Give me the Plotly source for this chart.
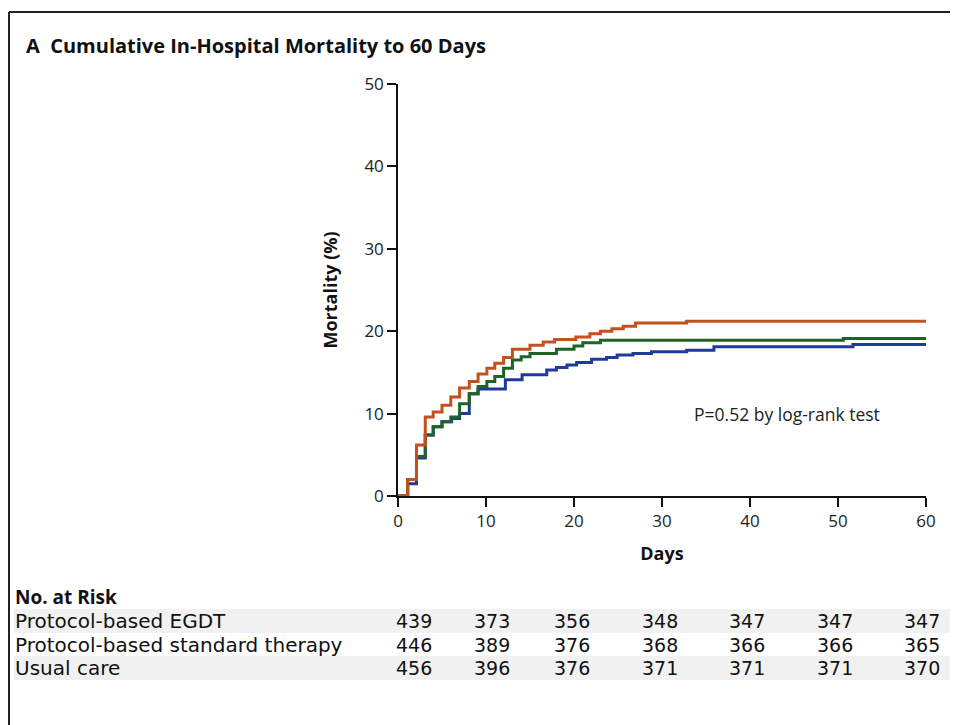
import plotly.graph_objects as go

# ---------------- data ----------------
egdt_days = [0, 1.1, 2.1, 3.1, 4.0, 5.0, 6.0, 7.0, 8.1, 9.1, 10.1, 11.0, 12.0, 13.0, 15.0, 16.5,
             17.8, 20.2, 21.8, 23.0, 24.3, 25.6, 27.0, 32.8, 60]
egdt_mort = [0, 2.0, 6.2, 9.6, 10.2, 11.0, 12.0, 13.1, 13.9, 14.8, 15.5, 16.1, 16.8, 17.8, 18.3, 18.7,
             19.0, 19.3, 19.7, 20.0, 20.3, 20.6, 21.0, 21.2, 21.2]

std_days = [0, 1.1, 2.1, 3.1, 4.0, 5.0, 6.0, 7.0, 8.1, 9.1, 10.1, 11.0, 12.0, 13.0, 14.0, 15.0,
            18.0, 20.0, 21.0, 23.0, 50.6, 60]
std_mort = [0, 2.0, 4.8, 7.4, 8.4, 9.0, 9.6, 11.2, 12.4, 13.3, 13.9, 14.5, 15.5, 16.5, 16.9, 17.3,
            17.8, 18.2, 18.6, 18.9, 19.1, 19.1]

usual_days = [0, 1.1, 2.1, 3.1, 4.0, 5.0, 6.1, 7.0, 8.1, 9.1, 12.2, 14.1, 16.9, 18.0, 19.2, 20.3,
              22.0, 23.7, 24.9, 26.7, 28.8, 32.8, 35.9, 51.7, 60]
usual_mort = [0, 1.5, 4.6, 7.4, 8.4, 9.0, 9.4, 10.0, 12.4, 13.0, 14.1, 14.7, 15.3, 15.6, 15.9, 16.2,
              16.6, 16.8, 17.1, 17.3, 17.5, 17.7, 18.1, 18.4, 18.4]

risk_days = [0, 10, 20, 30, 40, 50, 60]
risk_groups = ["Protocol-based EGDT", "Protocol-based standard therapy", "Usual care"]
risk_egdt = [439, 373, 356, 348, 347, 347, 347]
risk_std = [446, 389, 376, 368, 366, 366, 365]
risk_usual = [456, 396, 376, 371, 371, 371, 370]

x_ticks = [0, 10, 20, 30, 40, 50, 60]
y_ticks = [0, 10, 20, 30, 40, 50]

FONT = "Open Sans"
TFONT = "DejaVu Sans"
OFF = 8  # page body margin

fig = go.Figure()
series = [
    (usual_days, usual_mort, "#1f3a9a", "Usual care"),
    (std_days, std_mort, "#1f6327", "Protocol-based standard therapy"),
    (egdt_days, egdt_mort, "#c4501e", "Protocol-based EGDT"),
]
for xd, yd, col, name in series:
    fig.add_trace(go.Scatter(x=xd, y=yd, mode="lines", line=dict(color=col, width=3, shape="hv"),
                             name=name, showlegend=False, cliponaxis=False))

# plot-area pixel mapping helpers (screen pixels, layout only)
PL, PR, PT, PB = 398, 926, 84, 496
W, H = 958 - OFF, 725 - OFF
def py(p):  # screen pixel y -> paper y
    return (PB - p) / (PB - PT)
def px(p):  # screen pixel x -> paper x
    return (p - PL) / (PR - PL)

annotations = []
annotations.append(dict(text="P=0.52 by log-rank test", x=44.2, y=10, xref="x", yref="y",
                        xanchor="center", yanchor="middle",
                        showarrow=False, font=dict(family=FONT, size=17.5, color="#222")))
annotations.append(dict(text="<b>No. at Risk</b>", x=px(13), y=py(597), xref="paper", yref="paper",
                        xanchor="left", yanchor="middle", showarrow=False,
                        font=dict(family=FONT, size=19, color="#111")))
row_y = [621, 645, 668]
col_shift = [16, 6, -2, -2, -3, -3, -4]
for gi, (g, vals) in enumerate(zip(risk_groups, [risk_egdt, risk_std, risk_usual])):
    annotations.append(dict(text=g, x=px(13), y=py(row_y[gi]), xref="paper", yref="paper",
                            xanchor="left", yanchor="middle", showarrow=False,
                            font=dict(family=TFONT, size=20, color="#111")))
    for d, v, s in zip(risk_days, vals, col_shift):
        annotations.append(dict(text=str(v), x=d, y=py(row_y[gi]), xref="x", yref="paper",
                                xanchor="center", yanchor="middle", xshift=s, showarrow=False,
                                font=dict(family=TFONT, size=19, color="#111")))

shapes = []
for (a, b) in [(609, 633), (656, 680)]:
    shapes.append(dict(type="rect", xref="paper", yref="paper", x0=px(14), x1=px(950),
                       y0=py(b), y1=py(a), fillcolor="#f1f1f1", line=dict(width=0), layer="below"))
# frame lines
shapes.append(dict(type="line", xref="paper", yref="paper", x0=px(9), x1=px(960), y0=py(12), y1=py(12),
                   line=dict(color="#222", width=2)))
shapes.append(dict(type="line", xref="paper", yref="paper", x0=px(9), x1=px(9), y0=py(12), y1=py(740),
                   line=dict(color="#222", width=2)))

fig.update_layout(
    width=W, height=H,
    margin=dict(l=PL - OFF, r=W - (PR - OFF), t=PT - OFF, b=H - (PB - OFF)),
    paper_bgcolor="white", plot_bgcolor="white",
    title=dict(text="<b>A</b>  <b>Cumulative In-Hospital Mortality to 60 Days</b>",
               x=(26 - OFF) / W, xanchor="left", xref="container",
               y=1 - (46 - OFF) / H, yanchor="middle", yref="container",
               font=dict(family=FONT, size=20, color="#111")),
    annotations=annotations,
    shapes=shapes,
    xaxis=dict(range=[0, 60], tickvals=x_ticks, showline=True, linecolor="#111", linewidth=1.5,
               ticks="outside", ticklen=9, tickwidth=1.5, tickcolor="#111", showgrid=False, zeroline=False,
               tickfont=dict(family=FONT, size=17, color="#222"),
               title=dict(text="<b>Days</b>", font=dict(family=FONT, size=18, color="#111"), standoff=16)),
    yaxis=dict(range=[0, 50], tickvals=y_ticks, showline=True, linecolor="#111", linewidth=1.5,
               ticks="outside", ticklen=9, tickwidth=1.5, tickcolor="#111", showgrid=False, zeroline=False,
               tickfont=dict(family=FONT, size=17, color="#222"),
               title=dict(text="<b>Mortality (%)</b>", font=dict(family=FONT, size=18, color="#111"), standoff=22)),
)

fig.write_html("out.html")
